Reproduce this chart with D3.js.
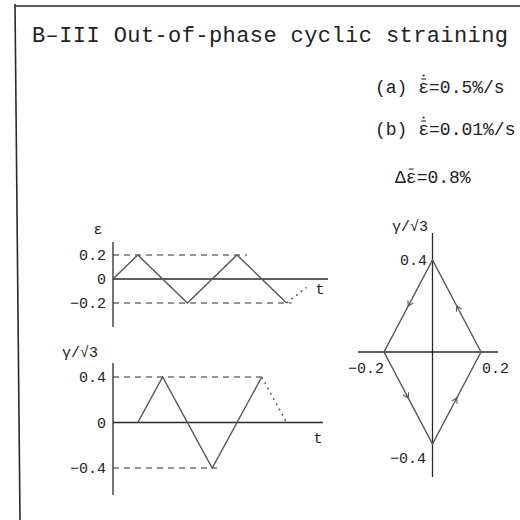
<!DOCTYPE html>
<html>
<head>
<meta charset="utf-8">
<script src="https://cdn.jsdelivr.net/npm/d3@7"></script>
<style>
  html, body { margin: 0; padding: 0; background: #fff; }
  svg { display: block; }
  text { font-family: "Liberation Mono", "DejaVu Sans Mono", monospace; fill: #222; }
</style>
</head>
<body>
<script>
// Strain history: time in quarter-cycle units
const epsTime = [0, 1, 3, 5, 7];
const epsValue = [0, 0.2, -0.2, 0.2, -0.2];
const epsNextTime = [7, 7.8];
const epsNextValue = [-0.2, -0.07];
const epsTicks = [0.2, 0, -0.2];
const epsTickLabels = ["0.2", "0", "\u22120.2"];
const epsLimitEnd = [5.4, 7.2];   // time where the ±0.2 dashed guides stop

// Shear strain history (lags axial strain by a quarter cycle)
const gamTime = [1, 2, 4, 6];
const gamValue = [0, 0.4, -0.4, 0.4];
const gamNextTime = [6, 7];
const gamNextValue = [0.4, 0];
const gamTicks = [0.4, 0, -0.4];
const gamTickLabels = ["0.4", "0", "\u22120.4"];
const gamLimitEnd = [6, 4.2];

// One cycle in the strain plane
const loopEps = [0.2, 0, -0.2, 0, 0.2];
const loopGam = [0, 0.4, 0, -0.4, 0];
const loopEpsLabels = ["\u22120.2", "0.2"];
const loopGamLabels = ["0.4", "\u22120.4"];

const titleText = "B\u2013III Out-of-phase cyclic straining";
const rateA = ["(a) ", "\u03b5", "=0.5%/s"];
const rateB = ["(b) ", "\u03b5", "=0.01%/s"];
const rangeText = ["\u0394", "\u03b5", "=0.8%"];

const W = 520, H = 520;
const svg = d3.select("body").append("svg").attr("width", W).attr("height", H);

const ink = "#2a2a2a";
const waveInk = "#555";

// page frame
svg.append("line").attr("x1", 15).attr("y1", 4).attr("x2", 20).attr("y2", H)
  .attr("stroke", ink).attr("stroke-width", 1.6);
svg.append("line").attr("x1", 15).attr("y1", 6).attr("x2", W).attr("y2", 6)
  .attr("stroke", ink).attr("stroke-width", 1.6);

// heading
svg.append("text").attr("x", 32).attr("y", 42).attr("font-size", 22)
  .attr("textLength", 476).attr("lengthAdjust", "spacing").text(titleText);

function rateLine(parts, x, y, size) {
  const t = svg.append("text").attr("x", x).attr("y", y).attr("font-size", size);
  t.append("tspan").text(parts[0]);
  t.append("tspan").text(parts[1]);
  t.append("tspan").text(parts[2]);
  return t;
}
const fs = 18;
const tA = rateLine(rateA, 375, 93, fs);
const tB = rateLine(rateB, 375, 135, fs);
const tC = rateLine(rangeText, 395, 183, fs);

// accent marks over epsilon: bar + dot for equivalent strain rate, bar for range
function accents(textSel, charIndex, withDot) {
  const x0 = textSel.node().getStartPositionOfChar(charIndex).x;
  const x1 = textSel.node().getEndPositionOfChar(charIndex).x;
  const y = +textSel.attr("y");
  svg.append("line").attr("x1", x0 + 3).attr("x2", x1 - 3).attr("y1", y - 14).attr("y2", y - 14)
    .attr("stroke", ink).attr("stroke-width", 1.1);
  if (withDot) {
    svg.append("circle").attr("cx", (x0 + x1) / 2).attr("cy", y - 17.5).attr("r", 1.1).attr("fill", ink);
  }
}
accents(tA, 4, true);
accents(tB, 4, true);
accents(tC, 1, false);

// ---------- time histories ----------
const tx = d3.scaleLinear().domain([0, 1]).range([113, 137.8]);

function history(opts) {
  const y = d3.scaleLinear().domain([opts.max, -opts.max]).range(opts.yRange);
  const g = svg.append("g");
  // guides at ±max
  [opts.max, -opts.max].forEach((v, i) => {
    g.append("line").attr("x1", tx(0)).attr("x2", tx(opts.limitEnd[i]))
      .attr("y1", y(v)).attr("y2", y(v))
      .attr("stroke", ink).attr("stroke-width", 1).attr("stroke-dasharray", "6,5");
  });
  // axes
  g.append("line").attr("x1", tx(0)).attr("x2", opts.tEnd).attr("y1", y(0)).attr("y2", y(0))
    .attr("stroke", ink).attr("stroke-width", 1.3);
  g.append("line").attr("x1", tx(0)).attr("x2", tx(0)).attr("y1", opts.axisTop).attr("y2", opts.axisBottom)
    .attr("stroke", ink).attr("stroke-width", 1.3);
  // tick labels
  opts.ticks.forEach((v, i) => {
    g.append("text").attr("x", tx(0) - 7).attr("y", y(v)).attr("dy", "0.35em")
      .attr("text-anchor", "end").attr("font-size", 15).text(opts.tickLabels[i]);
  });
  g.append("text").attr("x", opts.labelX).attr("y", opts.labelY).attr("font-size", 15)
    .attr("text-anchor", "middle").text(opts.label);
  g.append("text").attr("x", opts.tLabel[0]).attr("y", opts.tLabel[1]).attr("font-size", 15)
    .attr("text-anchor", "middle").text("t");
  // waveform
  const line = d3.line().x(d => tx(d[0])).y(d => y(d[1]));
  g.append("path").datum(d3.zip(opts.t, opts.v)).attr("d", line)
    .attr("fill", "none").attr("stroke", waveInk).attr("stroke-width", 1.4);
  g.append("path").datum(d3.zip(opts.nt, opts.nv)).attr("d", line)
    .attr("fill", "none").attr("stroke", waveInk).attr("stroke-width", 1.4)
    .attr("stroke-dasharray", "2,4");
}

history({
  max: 0.2, yRange: [255, 303], axisTop: 242, axisBottom: 327, tEnd: 328,
  limitEnd: epsLimitEnd, ticks: epsTicks, tickLabels: epsTickLabels,
  label: "\u03b5", labelX: 98, labelY: 234, tLabel: [320, 294],
  t: epsTime, v: epsValue, nt: epsNextTime, nv: epsNextValue
});

history({
  max: 0.4, yRange: [377, 468], axisTop: 363, axisBottom: 495, tEnd: 323,
  limitEnd: gamLimitEnd, ticks: gamTicks, tickLabels: gamTickLabels,
  label: "\u03b3/\u221a3", labelX: 80, labelY: 357, tLabel: [318, 443],
  t: gamTime, v: gamValue, nt: gamNextTime, nv: gamNextValue
});

// ---------- strain-plane loop ----------
const lx = d3.scaleLinear().domain([-0.2, 0.2]).range([384, 481]);
const ly = d3.scaleLinear().domain([0.4, -0.4]).range([260, 444]);
const lg = svg.append("g");
lg.append("line").attr("x1", lx(0)).attr("x2", lx(0)).attr("y1", 233).attr("y2", 477)
  .attr("stroke", ink).attr("stroke-width", 1.3);
lg.append("line").attr("x1", 358).attr("x2", 498).attr("y1", ly(0)).attr("y2", ly(0))
  .attr("stroke", ink).attr("stroke-width", 1.5);
const loopPts = d3.zip(loopEps, loopGam);
lg.append("path").datum(loopPts)
  .attr("d", d3.line().x(d => lx(d[0])).y(d => ly(d[1])))
  .attr("fill", "none").attr("stroke", waveInk).attr("stroke-width", 1.4);

// direction chevrons at mid-edges
for (let i = 0; i < loopPts.length - 1; i++) {
  const a = loopPts[i], b = loopPts[i + 1];
  const x0 = lx(a[0]), y0 = ly(a[1]), x1 = lx(b[0]), y1 = ly(b[1]);
  const mx = (x0 + x1) / 2, my = (y0 + y1) / 2;
  const ang = Math.atan2(y1 - y0, x1 - x0) * 180 / Math.PI;
  lg.append("path").attr("d", "M-5,-3L0,0L-5,3")
    .attr("transform", `translate(${mx},${my}) rotate(${ang})`)
    .attr("fill", "none").attr("stroke", waveInk).attr("stroke-width", 1.1);
}

lg.append("text").attr("x", 428).attr("y", 231).attr("font-size", 15)
  .attr("text-anchor", "end").text("\u03b3/\u221a3");
lg.append("text").attr("x", 427).attr("y", ly(0.4)).attr("dy", "0.35em")
  .attr("text-anchor", "end").attr("font-size", 15).text(loopGamLabels[0]);
lg.append("text").attr("x", 426).attr("y", ly(-0.4) + 14).attr("dy", "0.35em")
  .attr("text-anchor", "end").attr("font-size", 15).text(loopGamLabels[1]);
lg.append("text").attr("x", lx(-0.2)).attr("y", ly(0) + 16).attr("dy", "0.35em")
  .attr("text-anchor", "end").attr("font-size", 15).text(loopEpsLabels[0]);
lg.append("text").attr("x", lx(0.2) + 1).attr("y", ly(0) + 16).attr("dy", "0.35em")
  .attr("text-anchor", "start").attr("font-size", 15).text(loopEpsLabels[1]);
</script>
</body>
</html>
